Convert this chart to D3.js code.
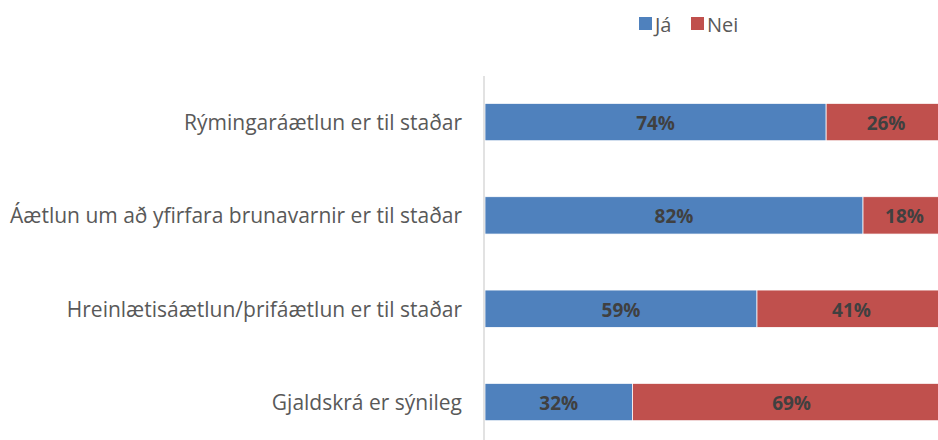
<!DOCTYPE html>
<html>
<head>
<meta charset="utf-8">
<script src="https://cdn.jsdelivr.net/npm/d3@7"></script>
<style>
  body { margin: 0; background: #fff; }
  text { font-family: "Open Sans", sans-serif; }
</style>
</head>
<body>
<script>
const w = 938;
const h = 440;

const categories = [
  'Rýmingaráætlun er til staðar',
  'Áætlun um að yfirfara brunavarnir er til staðar',
  'Hreinlætisáætlun/þrifáætlun er til staðar',
  'Gjaldskrá er sýnileg'
];
const seriesNames = ['Já', 'Nei'];
const jaValues = [74, 82, 59, 32];
const neiValues = [26, 18, 41, 69];
const colors = ['#4F81BD', '#C0504D'];

const rows = categories.map((c, i) => ({ cat: c, 'Já': jaValues[i], 'Nei': neiValues[i] }));
const stacked = d3.stack().keys(seriesNames)(rows);

const svg = d3.select('body')
  .append('svg')
  .attr('width', w)
  .attr('height', h);

const x = d3.scaleLinear().domain([0, 100]).range([485, 946]);
const y = d3.scaleBand().domain(categories).range([75.4, 448.7]).paddingInner(0.6).paddingOuter(0.3);

// bars
stacked.forEach((s, si) => {
  svg.append('g')
    .selectAll('rect')
    .data(s)
    .enter()
    .append('rect')
    .attr('x', d => x(d[0]))
    .attr('y', d => y(d.data.cat))
    .attr('width', d => x(d[1]) - x(d[0]))
    .attr('height', y.bandwidth())
    .attr('fill', colors[si])
    .attr('stroke', '#fff')
    .attr('stroke-width', 0.75);

  svg.append('g')
    .selectAll('text')
    .data(s)
    .enter()
    .append('text')
    .text(d => (d[1] - d[0]) + '%')
    .attr('x', d => (x(d[0]) + Math.min(x(d[1]), w + 40)) / 2)
    .attr('y', d => y(d.data.cat) + y.bandwidth() / 2 + 1)
    .attr('text-anchor', 'middle')
    .attr('dominant-baseline', 'central')
    .style('font-size', '19px')
    .style('font-weight', 'bold')
    .style('fill', '#404040');
});

// vertical axis line
svg.append('line')
  .attr('x1', 484).attr('x2', 484)
  .attr('y1', 76).attr('y2', 448)
  .attr('stroke', '#D9D9D9')
  .attr('stroke-width', 1.5);

// category labels
svg.append('g')
  .selectAll('text')
  .data(categories)
  .enter()
  .append('text')
  .text(d => d)
  .attr('x', 462)
  .attr('y', d => y(d) + y.bandwidth() / 2)
  .attr('text-anchor', 'end')
  .attr('dominant-baseline', 'central')
  .style('font-size', '21px')
  .style('fill', '#595959');

// legend
const legendX = [639, 691];
const legend = svg.append('g');
seriesNames.forEach((name, i) => {
  legend.append('rect')
    .attr('x', legendX[i]).attr('y', 17)
    .attr('width', 13).attr('height', 13)
    .attr('fill', colors[i]);
  legend.append('text')
    .text(name)
    .attr('x', legendX[i] + 16)
    .attr('y', 24)
    .attr('dominant-baseline', 'central')
    .style('font-size', '20px')
    .style('fill', '#595959');
});
</script>
</body>
</html>
